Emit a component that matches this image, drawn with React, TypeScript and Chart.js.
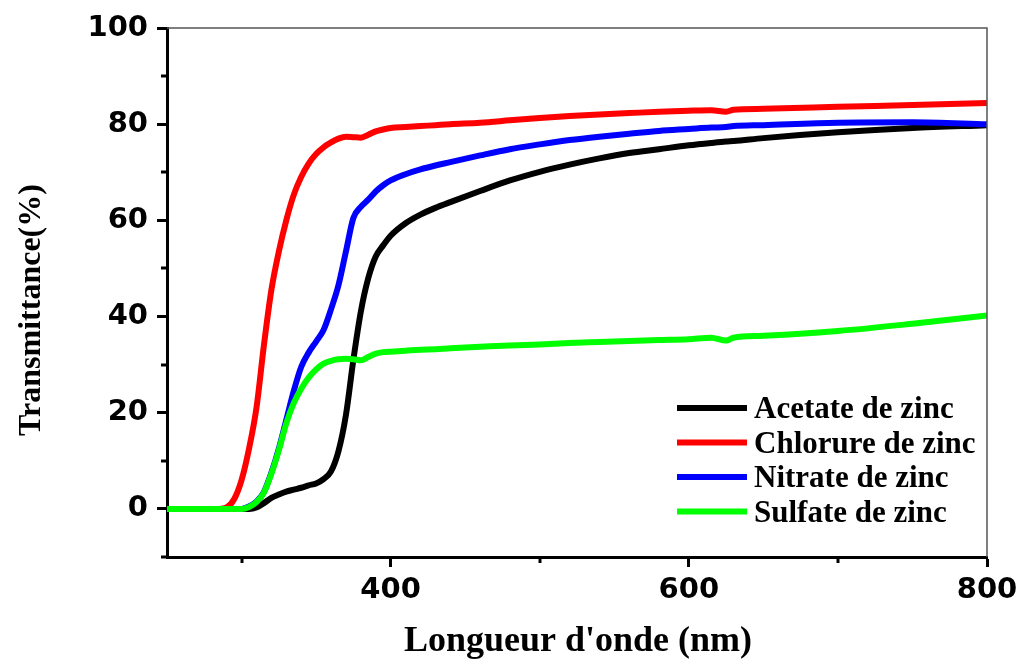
import React, { useEffect, useRef } from "react";
import { Chart, registerables } from "chart.js";

Chart.register(...registerables);

// Wavelength grid (nm)
const WAVELENGTHS = [
  250, 285, 290, 295, 300, 305, 310, 315, 320, 325, 330, 335, 340, 345, 350, 355,
  360, 365, 370, 375, 380, 385, 390, 395, 400, 410, 420, 430, 440, 460, 480, 500,
  520, 540, 560, 580, 600, 615, 625, 630, 650, 700, 750, 800,
];

// Transmittance (%) per precursor
const ACETATE = [
  0, 0, 0, 0, 0, 0, 0.3, 1.2, 2.3, 3.0, 3.6, 4.0, 4.4, 4.9, 5.3, 6.2,
  7.8, 12, 19.5, 31, 41, 48, 52.5, 54.8, 56.8, 59.4, 61.2, 62.6, 63.8, 66.1, 68.3, 70.1,
  71.6, 72.9, 74, 74.8, 75.6, 76.1, 76.4, 76.5, 77.1, 78.3, 79.2, 79.8,
];
const CHLORURE = [
  0, 0, 0.3, 2, 6, 12.5, 21, 34, 45.5, 53.5, 60, 65.3, 69, 71.8, 73.8, 75.2,
  76.2, 77, 77.4, 77.3, 77.2, 77.8, 78.5, 78.9, 79.2, 79.4, 79.6, 79.8, 80.0, 80.3, 80.8, 81.3,
  81.7, 82.0, 82.3, 82.6, 82.8, 82.9, 82.6, 83.0, 83.2, 83.6, 84.0, 84.4,
];
const NITRATE = [
  0, 0, 0, 0, 0, 0.5, 1.5, 3.5, 7.5, 12.5, 18.5, 24.5, 29.5, 32.5, 34.8, 37.2,
  41.5, 46.5, 53.5, 60.5, 62.8, 64.3, 66, 67.3, 68.3, 69.6, 70.6, 71.4, 72.1, 73.5, 74.8, 75.8,
  76.7, 77.4, 78, 78.6, 79, 79.3, 79.4, 79.6, 79.8, 80.3, 80.4, 80.0,
];
const SULFATE = [
  0, 0, 0, 0, 0, 0.4, 1.4, 3.4, 7.3, 12.2, 17.8, 22, 25, 27.3, 29, 30.2,
  30.8, 31.1, 31.2, 31.1, 30.9, 31.6, 32.3, 32.6, 32.7, 32.9, 33.1, 33.2, 33.4, 33.7, 34.0, 34.2,
  34.5, 34.7, 34.9, 35.1, 35.3, 35.6, 35.0, 35.6, 36.0, 37.0, 38.5, 40.2,
];

const SERIES_LABELS = ["Acetate de zinc", "Chlorure de zinc", "Nitrate de zinc", "Sulfate de zinc"];
const SERIES_VALUES = [ACETATE, CHLORURE, NITRATE, SULFATE];
const SERIES_COLORS = ["#000000", "#ff0000", "#0000ff", "#00ff00"];
const SERIES_ORDER = [4, 3, 2, 1];

const X_MAJOR_TICKS = [400, 600, 800];
const X_MINOR_TICKS = [300, 500, 700];
const Y_MAJOR_TICKS = [0, 20, 40, 60, 80, 100];
const Y_MINOR_TICKS = [-10, 10, 30, 50, 70, 90];

const X_TITLE = "Longueur d'onde (nm)";
const Y_TITLE = "Transmittance(%)";

const TICK_FONT = { family: "'DejaVu Sans', sans-serif", size: 29, weight: "bold" as const };
const SERIF = "'Liberation Serif', 'Times New Roman', serif";

const decorPlugin = {
  id: "decor",
  afterDatasetsDraw(chart: any) {
    const { ctx, chartArea: ca } = chart;
    ctx.save();
    // top & right frame
    ctx.strokeStyle = "#555555";
    ctx.lineWidth = 1.5;
    ctx.beginPath();
    ctx.moveTo(ca.left, ca.top);
    ctx.lineTo(ca.right, ca.top);
    ctx.lineTo(ca.right, ca.bottom);
    ctx.stroke();
    ctx.restore();
  },
  afterDraw(chart: any) {
    const { ctx, chartArea: ca, scales } = chart;
    const x = scales.x;
    const y = scales.y;
    ctx.save();
    // minor ticks
    ctx.strokeStyle = "#000";
    ctx.lineWidth = 3;
    Y_MINOR_TICKS.forEach((v) => {
      const py = Math.round(y.getPixelForValue(v));
      ctx.beginPath();
      ctx.moveTo(ca.left - 6, py);
      ctx.lineTo(ca.left, py);
      ctx.stroke();
    });
    X_MINOR_TICKS.forEach((v) => {
      const px = Math.round(x.getPixelForValue(v));
      ctx.beginPath();
      ctx.moveTo(px, ca.bottom);
      ctx.lineTo(px, ca.bottom + 6);
      ctx.stroke();
    });

    // legend
    const datasets = chart.data.datasets;
    ctx.font = `bold 31px ${SERIF}`;
    ctx.textAlign = "left";
    ctx.textBaseline = "alphabetic";
    datasets.forEach((ds: any, i: number) => {
      const rowY = ca.top + 380 + i * 34.5;
      ctx.strokeStyle = ds.borderColor;
      ctx.lineWidth = 6;
      ctx.beginPath();
      ctx.moveTo(ca.left + 510, rowY);
      ctx.lineTo(ca.left + 580, rowY);
      ctx.stroke();
      ctx.fillStyle = "#000";
      ctx.fillText(ds.label, ca.left + 587, rowY + 10);
    });

    // axis titles
    ctx.fillStyle = "#000";
    ctx.font = `bold 36px ${SERIF}`;
    ctx.textAlign = "center";
    ctx.textBaseline = "alphabetic";
    ctx.fillText(X_TITLE, (ca.left + ca.right) / 2 + 1, 651);

    ctx.font = `bold 32px ${SERIF}`;
    ctx.translate(40, 310);
    ctx.rotate(-Math.PI / 2);
    ctx.fillText(Y_TITLE, 0, 0);
    ctx.restore();
  },
};

export default function App() {
  const canvasRef = useRef<HTMLCanvasElement | null>(null);

  useEffect(() => {
    const canvas = canvasRef.current;
    if (!canvas) return;
    const chart = new Chart(canvas, {
      type: "line",
      data: {
        datasets: SERIES_LABELS.map((label, i) => ({
          label,
          data: WAVELENGTHS.map((w, j) => ({ x: w, y: SERIES_VALUES[i][j] })),
          borderColor: SERIES_COLORS[i],
          backgroundColor: SERIES_COLORS[i],
          borderWidth: 6,
          pointRadius: 0,
          fill: false,
          cubicInterpolationMode: "monotone" as const,
          order: SERIES_ORDER[i],
        })),
      },
      options: {
        responsive: false,
        animation: false,
        layout: { padding: { left: 0, top: 28, right: 33, bottom: 0 } },
        plugins: {
          legend: { display: false },
          tooltip: { enabled: false },
        },
        scales: {
          x: {
            type: "linear",
            min: 250,
            max: 800,
            afterBuildTicks: (s: any) => {
              s.ticks = X_MAJOR_TICKS.map((v) => ({ value: v }));
            },
            afterFit: (s: any) => {
              s.height = 105;
              s.paddingLeft = 0;
              s.paddingRight = 0;
            },
            grid: {
              drawOnChartArea: false,
              drawTicks: true,
              tickLength: 10,
              tickWidth: 3,
              tickColor: "#000",
            },
            border: { display: true, color: "#000", width: 3 },
            ticks: {
              font: TICK_FONT,
              color: "#000",
              padding: 6,
              maxRotation: 0,
              autoSkip: false,
              callback: (v: any) => String(v),
            },
          },
          y: {
            type: "linear",
            min: -10,
            max: 100,
            afterBuildTicks: (s: any) => {
              s.ticks = Y_MAJOR_TICKS.map((v) => ({ value: v }));
            },
            afterFit: (s: any) => {
              s.width = 167;
              s.paddingTop = 0;
              s.paddingBottom = 0;
            },
            grid: {
              drawOnChartArea: false,
              drawTicks: true,
              tickLength: 10,
              tickWidth: 3,
              tickColor: "#000",
            },
            border: { display: true, color: "#000", width: 3 },
            ticks: {
              font: TICK_FONT,
              color: "#000",
              padding: 9,
              autoSkip: false,
              callback: (v: any) => String(v),
            },
          },
        },
      },
      plugins: [decorPlugin],
    });
    return () => chart.destroy();
  }, []);

  return (
    <div style={{ position: "fixed", left: 0, top: 0, width: 1020, height: 662, background: "#fff" }}>
      <canvas ref={canvasRef} width={1020} height={662} style={{ display: "block" }} />
    </div>
  );
}
